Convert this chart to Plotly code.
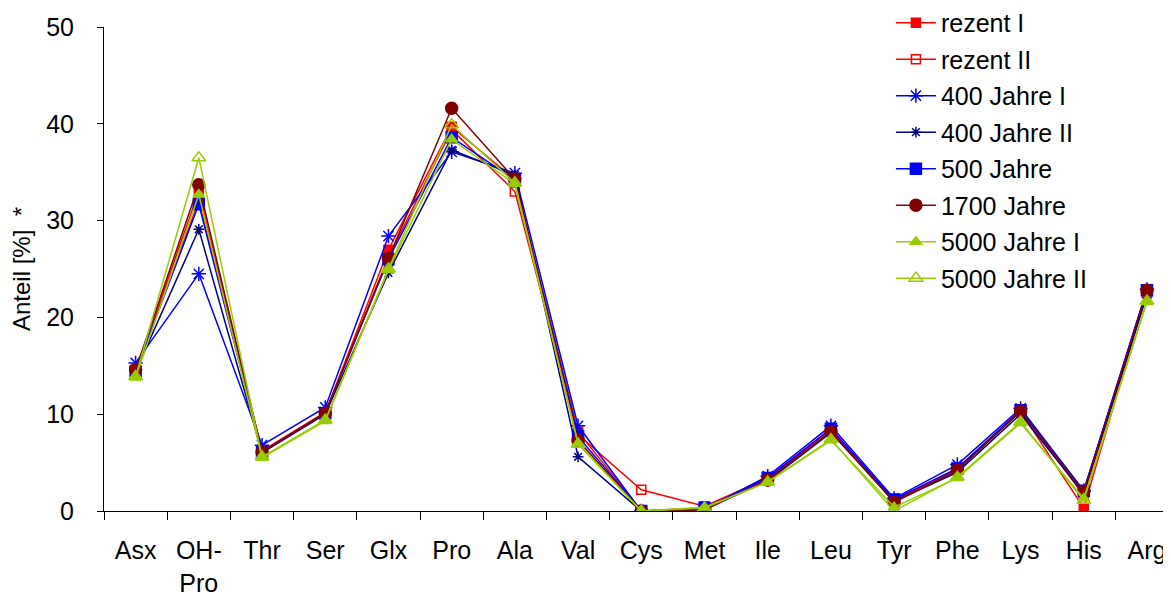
import plotly.graph_objects as go

categories = ["Asx", "OH-<br>Pro", "Thr", "Ser", "Glx", "Pro", "Ala", "Val", "Cys",
              "Met", "Ile", "Leu", "Tyr", "Phe", "Lys", "His", "Arg"]

rezent_I    = [14.5, 33.0, 6.1, 10.1, 27.0, 39.7, 34.2, 8.2, 0.0, 0.3, 3.3, 8.4, 1.0, 4.3, 10.3, 0.3, 22.7]
rezent_II   = [14.6, 32.0, 6.2, 10.2, 26.2, 39.4, 33.0, 7.9, 2.2, 0.5, 3.4, 8.5, 1.1, 4.4, 10.4, 1.6, 22.5]
jahre400_I  = [15.3, 24.5, 6.8, 10.7, 28.4, 37.1, 34.9, 8.8, 0.0, 0.2, 3.6, 8.8, 1.3, 4.8, 10.6, 2.1, 22.9]
jahre400_II = [14.4, 29.1, 6.0, 10.0, 24.6, 37.3, 34.7, 5.6, 0.0, 0.2, 3.1, 8.1, 1.0, 4.0, 10.0, 1.8, 22.3]
jahre500    = [14.4, 31.7, 6.1, 10.1, 26.0, 38.6, 34.2, 7.7, 0.0, 0.3, 3.4, 8.5, 1.2, 4.4, 10.4, 2.1, 22.8]
jahre1700   = [14.6, 33.7, 6.1, 10.1, 26.1, 41.6, 34.3, 7.3, 0.0, 0.1, 3.2, 8.2, 0.9, 4.2, 10.3, 2.0, 22.8]
jahre5000_I = [13.8, 32.7, 5.5, 9.3, 24.9, 38.4, 33.8, 7.0, 0.0, 0.4, 3.0, 7.3, 0.4, 3.4, 9.1, 1.3, 21.6]
jahre5000_II= [13.9, 36.5, 5.6, 9.4, 25.0, 39.9, 33.9, 6.9, 0.0, 0.3, 3.0, 7.4, 0.0, 3.5, 9.2, 1.1, 21.7]

series = [
    ("rezent I", rezent_I, "#FF0000", "square", 9, 1.5),
    ("rezent II", rezent_II, "#FF0000", "square-open", 9, 1.5),
    ("400 Jahre I", jahre400_I, "#0000FF", "asterisk-open", 12, 1.5),
    ("400 Jahre II", jahre400_II, "#000080", "asterisk-open", 9, 1.5),
    ("500 Jahre", jahre500, "#0000FF", "square", 11, 1.5),
    ("1700 Jahre", jahre1700, "#800000", "circle", 12, 1.5),
    ("5000 Jahre I", jahre5000_I, "#99CC00", "triangle-up", 10, 1.5),
    ("5000 Jahre II", jahre5000_II, "#99CC00", "triangle-up-open", 12, 1.5),
]

fig = go.Figure()
for name, vals, col, sym, size, lw in series:
    fig.add_trace(go.Scatter(
        x=categories, y=vals, name=name, mode="lines+markers",
        line=dict(color=col, width=lw),
        marker=dict(symbol=sym, size=size, color=col,
                    line=dict(color=col, width=1.5)),
        legendgroup=name,
    ))

# page body has an 8px default margin, so the figure is sized to fit
fig.update_layout(
    width=1163, height=588,
    margin=dict(l=96, r=0, t=19, b=85, autoexpand=False),
    paper_bgcolor="white", plot_bgcolor="white",
    font=dict(family="Liberation Sans, Arial, sans-serif", size=25, color="black"),
    showlegend=True,
    legend=dict(xref="paper", yref="paper", x=0.7375, y=1.056,
                xanchor="left", yanchor="top",
                font=dict(size=25), tracegroupgap=1, maxheight=600,
                bgcolor="rgba(0,0,0,0)", itemwidth=40),
    xaxis=dict(
        type="category", range=[-0.5, 16.38],
        showline=True, linecolor="black", linewidth=1,
        ticks="outside", ticklen=8, tickcolor="black", tickson="boundaries",
        ticklabelstandoff=17, showgrid=False, zeroline=False,
        tickfont=dict(size=25),
    ),
    yaxis=dict(
        range=[0, 50], tick0=0, dtick=10,
        showline=True, linecolor="black", linewidth=1,
        ticks="outside", ticklen=6, tickcolor="black",
        ticklabelstandoff=18,
        showgrid=False, zeroline=False,
        tickfont=dict(size=25),
        title=dict(text="Anteil [%]  *", font=dict(size=24), standoff=15),
    ),
)

fig.write_html("out.html")
